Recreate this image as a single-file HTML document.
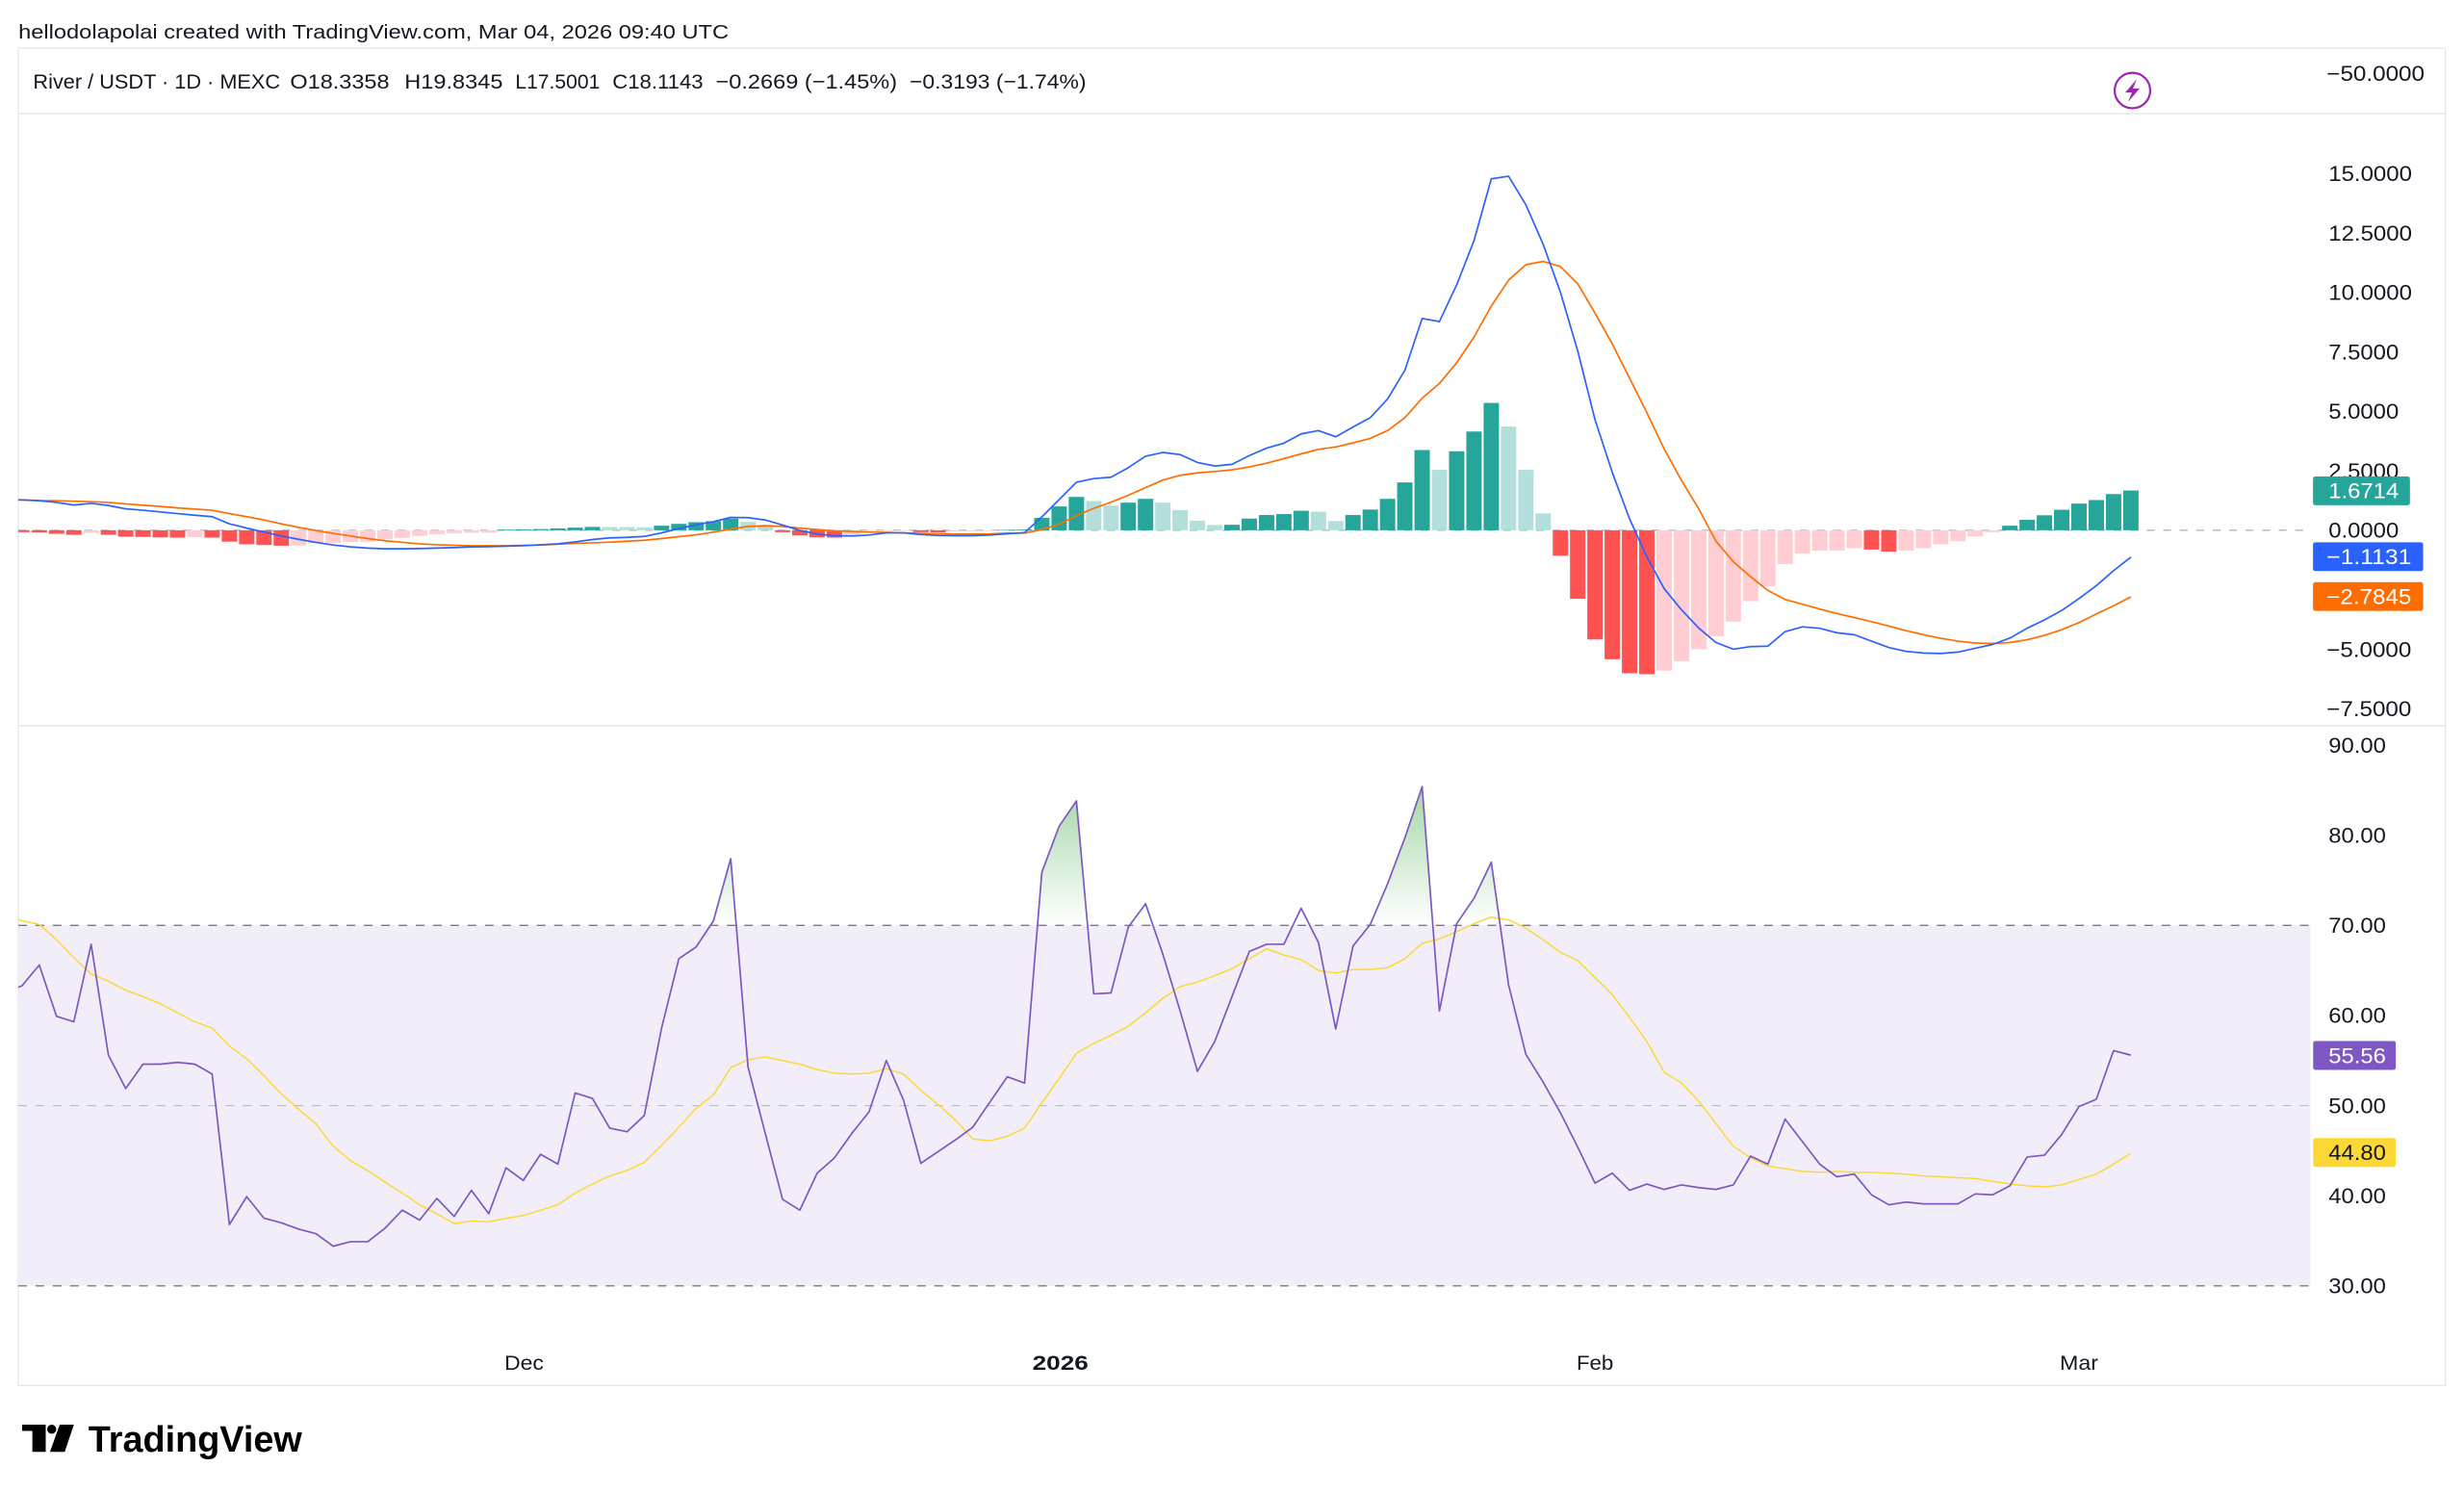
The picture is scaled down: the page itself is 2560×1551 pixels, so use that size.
<!DOCTYPE html>
<html>
<head>
<meta charset="utf-8">
<style>
html,body{margin:0;padding:0;background:#fff;}
svg{display:block;}
text{font-family:"Liberation Sans",Arial,sans-serif;}
</style>
</head>
<body>
<svg xmlns="http://www.w3.org/2000/svg" width="2560" height="1551" viewBox="0 0 2560 1551">
<defs>
  <clipPath id="cm"><rect x="11.6" y="72.6" width="1458.8" height="388.8"/></clipPath>
  <clipPath id="cr"><rect x="11.6" y="462" width="1458.8" height="419.4"/></clipPath>
  <clipPath id="c70" clipPathUnits="userSpaceOnUse"><rect x="-2" y="70" width="130" height="30"/></clipPath>
  <linearGradient id="gg" gradientUnits="userSpaceOnUse" x1="0" y1="100" x2="0" y2="70">
    <stop offset="0" stop-color="#4CAF50" stop-opacity="1"/>
    <stop offset="1" stop-color="#4CAF50" stop-opacity="0"/>
  </linearGradient>
</defs>
<rect width="2560" height="1551" fill="#ffffff"/>
<g transform="scale(1.632653,1.632632)">

  <!-- title -->
  <text x="11.7" y="24.5" font-size="12.6" fill="#131722" textLength="452" lengthAdjust="spacingAndGlyphs">hellodolapolai created with TradingView.com, Mar 04, 2026 09:40 UTC</text>

  <!-- frame -->
  <rect x="11.6" y="30.6" width="1544.6" height="851" fill="none" stroke="#E3E5EB" stroke-width="0.7"/>
  <line x1="11.6" y1="72.3" x2="1556.2" y2="72.3" stroke="#E0E3EB" stroke-width="0.8"/>
  <line x1="11.6" y1="461.7" x2="1556.2" y2="461.7" stroke="#E0E3EB" stroke-width="0.8"/>

  <!-- header -->
  <g font-size="13" fill="#131722">
    <text x="21.1" y="56.3" textLength="157.2" lengthAdjust="spacingAndGlyphs">River / USDT · 1D · MEXC</text>
    <text x="184.6" y="56.3" textLength="63.2" lengthAdjust="spacingAndGlyphs">O18.3358</text>
    <text x="257.4" y="56.3" textLength="62.6" lengthAdjust="spacingAndGlyphs">H19.8345</text>
    <text x="327.9" y="56.3" textLength="53.9" lengthAdjust="spacingAndGlyphs">L17.5001</text>
    <text x="389.7" y="56.3" textLength="57.8" lengthAdjust="spacingAndGlyphs">C18.1143</text>
    <text x="455.4" y="56.3" textLength="115.5" lengthAdjust="spacingAndGlyphs">−0.2669 (−1.45%)</text>
    <text x="578.8" y="56.3" textLength="112.4" lengthAdjust="spacingAndGlyphs">−0.3193 (−1.74%)</text>
  </g>

  <!-- lightning icon -->
  <circle cx="1357" cy="57.6" r="11.3" fill="none" stroke="#9C27B0" stroke-width="1.35"/>
  <path d="M1359.8,50.3 L1352.4,58.9 L1356.7,58.9 L1354.2,64.9 L1361.6,56.3 L1357.3,56.3 Z" fill="#9C27B0"/>

  <!-- ============ MACD PANE ============ -->
  <line x1="11.6" y1="337.4" x2="1470.4" y2="337.4" stroke="#9598A1" stroke-width="0.65" stroke-dasharray="5 5.5"/>
  <g clip-path="url(#cm)">
    <g transform="translate(3,337.4) scale(11,-15.14)">
      <g transform="translate(-0.445,0)">
        <g fill="#FF5252">
          <rect x="0" y="-0.06" width="0.89" height="0.06"/>
          <rect x="1" y="-0.08" width="0.89" height="0.08"/>
          <rect x="2" y="-0.09" width="0.89" height="0.09"/>
          <rect x="3" y="-0.15" width="0.89" height="0.15"/>
          <rect x="4" y="-0.19" width="0.89" height="0.19"/>
          <rect x="6" y="-0.19" width="0.89" height="0.19"/>
          <rect x="7" y="-0.27" width="0.89" height="0.27"/>
          <rect x="8" y="-0.28" width="0.89" height="0.28"/>
          <rect x="9" y="-0.30" width="0.89" height="0.30"/>
          <rect x="10" y="-0.31" width="0.89" height="0.31"/>
          <rect x="12" y="-0.31" width="0.89" height="0.31"/>
          <rect x="13" y="-0.48" width="0.89" height="0.48"/>
          <rect x="14" y="-0.59" width="0.89" height="0.59"/>
          <rect x="15" y="-0.62" width="0.89" height="0.62"/>
          <rect x="16" y="-0.65" width="0.89" height="0.65"/>
          <rect x="45" y="-0.08" width="0.89" height="0.08"/>
          <rect x="46" y="-0.22" width="0.89" height="0.22"/>
          <rect x="47" y="-0.30" width="0.89" height="0.30"/>
          <rect x="48" y="-0.31" width="0.89" height="0.31"/>
          <rect x="53" y="-0.08" width="0.89" height="0.08"/>
          <rect x="54" y="-0.09" width="0.89" height="0.09"/>
          <rect x="90" y="-1.07" width="0.89" height="1.07"/>
          <rect x="91" y="-2.88" width="0.89" height="2.88"/>
          <rect x="92" y="-4.59" width="0.89" height="4.59"/>
          <rect x="93" y="-5.42" width="0.89" height="5.42"/>
          <rect x="94" y="-6.01" width="0.89" height="6.01"/>
          <rect x="95" y="-6.05" width="0.89" height="6.05"/>
          <rect x="108" y="-0.81" width="0.89" height="0.81"/>
          <rect x="109" y="-0.90" width="0.89" height="0.90"/>
        </g>
        <g fill="#FFCDD2">
          <rect x="5" y="-0.11" width="0.89" height="0.11"/>
          <rect x="11" y="-0.29" width="0.89" height="0.29"/>
          <rect x="17" y="-0.64" width="0.89" height="0.64"/>
          <rect x="18" y="-0.55" width="0.89" height="0.55"/>
          <rect x="19" y="-0.54" width="0.89" height="0.54"/>
          <rect x="20" y="-0.49" width="0.89" height="0.49"/>
          <rect x="21" y="-0.48" width="0.89" height="0.48"/>
          <rect x="22" y="-0.38" width="0.89" height="0.38"/>
          <rect x="23" y="-0.32" width="0.89" height="0.32"/>
          <rect x="24" y="-0.24" width="0.89" height="0.24"/>
          <rect x="25" y="-0.17" width="0.89" height="0.17"/>
          <rect x="26" y="-0.12" width="0.89" height="0.12"/>
          <rect x="27" y="-0.11" width="0.89" height="0.11"/>
          <rect x="28" y="-0.10" width="0.89" height="0.10"/>
          <rect x="49" y="-0.18" width="0.89" height="0.18"/>
          <rect x="50" y="-0.05" width="0.89" height="0.05"/>
          <rect x="51" y="-0.04" width="0.89" height="0.04"/>
          <rect x="52" y="-0.03" width="0.89" height="0.03"/>
          <rect x="55" y="-0.05" width="0.89" height="0.05"/>
          <rect x="56" y="-0.04" width="0.89" height="0.04"/>
          <rect x="57" y="-0.03" width="0.89" height="0.03"/>
          <rect x="96" y="-5.90" width="0.89" height="5.90"/>
          <rect x="97" y="-5.50" width="0.89" height="5.50"/>
          <rect x="98" y="-5.00" width="0.89" height="5.00"/>
          <rect x="99" y="-4.45" width="0.89" height="4.45"/>
          <rect x="100" y="-3.84" width="0.89" height="3.84"/>
          <rect x="101" y="-2.98" width="0.89" height="2.98"/>
          <rect x="102" y="-2.35" width="0.89" height="2.35"/>
          <rect x="103" y="-1.42" width="0.89" height="1.42"/>
          <rect x="104" y="-0.97" width="0.89" height="0.97"/>
          <rect x="105" y="-0.86" width="0.89" height="0.86"/>
          <rect x="106" y="-0.85" width="0.89" height="0.85"/>
          <rect x="107" y="-0.75" width="0.89" height="0.75"/>
          <rect x="110" y="-0.86" width="0.89" height="0.86"/>
          <rect x="111" y="-0.75" width="0.89" height="0.75"/>
          <rect x="112" y="-0.59" width="0.89" height="0.59"/>
          <rect x="113" y="-0.46" width="0.89" height="0.46"/>
          <rect x="114" y="-0.26" width="0.89" height="0.26"/>
          <rect x="115" y="-0.08" width="0.89" height="0.08"/>
        </g>
        <g fill="#26A69A">
          <rect x="29" y="0" width="0.89" height="0.03"/>
          <rect x="30" y="0" width="0.89" height="0.04"/>
          <rect x="31" y="0" width="0.89" height="0.05"/>
          <rect x="32" y="0" width="0.89" height="0.08"/>
          <rect x="33" y="0" width="0.89" height="0.11"/>
          <rect x="34" y="0" width="0.89" height="0.14"/>
          <rect x="38" y="0" width="0.89" height="0.19"/>
          <rect x="39" y="0" width="0.89" height="0.27"/>
          <rect x="40" y="0" width="0.89" height="0.34"/>
          <rect x="41" y="0" width="0.89" height="0.38"/>
          <rect x="42" y="0" width="0.89" height="0.49"/>
          <rect x="58" y="0" width="0.89" height="0.02"/>
          <rect x="59" y="0" width="0.89" height="0.03"/>
          <rect x="60" y="0" width="0.89" height="0.52"/>
          <rect x="61" y="0" width="0.89" height="1.00"/>
          <rect x="62" y="0" width="0.89" height="1.40"/>
          <rect x="65" y="0" width="0.89" height="1.16"/>
          <rect x="66" y="0" width="0.89" height="1.32"/>
          <rect x="71" y="0" width="0.89" height="0.23"/>
          <rect x="72" y="0" width="0.89" height="0.49"/>
          <rect x="73" y="0" width="0.89" height="0.64"/>
          <rect x="74" y="0" width="0.89" height="0.68"/>
          <rect x="75" y="0" width="0.89" height="0.82"/>
          <rect x="78" y="0" width="0.89" height="0.64"/>
          <rect x="79" y="0" width="0.89" height="0.87"/>
          <rect x="80" y="0" width="0.89" height="1.32"/>
          <rect x="81" y="0" width="0.89" height="2.01"/>
          <rect x="82" y="0" width="0.89" height="3.37"/>
          <rect x="84" y="0" width="0.89" height="3.32"/>
          <rect x="85" y="0" width="0.89" height="4.15"/>
          <rect x="86" y="0" width="0.89" height="5.35"/>
          <rect x="116" y="0" width="0.89" height="0.19"/>
          <rect x="117" y="0" width="0.89" height="0.44"/>
          <rect x="118" y="0" width="0.89" height="0.63"/>
          <rect x="119" y="0" width="0.89" height="0.86"/>
          <rect x="120" y="0" width="0.89" height="1.12"/>
          <rect x="121" y="0" width="0.89" height="1.27"/>
          <rect x="122" y="0" width="0.89" height="1.52"/>
          <rect x="123" y="0" width="0.89" height="1.67"/>
        </g>
        <g fill="#B2DFDB">
          <rect x="35" y="0" width="0.89" height="0.135"/>
          <rect x="36" y="0" width="0.89" height="0.13"/>
          <rect x="37" y="0" width="0.89" height="0.125"/>
          <rect x="43" y="0" width="0.89" height="0.35"/>
          <rect x="44" y="0" width="0.89" height="0.16"/>
          <rect x="63" y="0" width="0.89" height="1.23"/>
          <rect x="64" y="0" width="0.89" height="1.04"/>
          <rect x="67" y="0" width="0.89" height="1.16"/>
          <rect x="68" y="0" width="0.89" height="0.85"/>
          <rect x="69" y="0" width="0.89" height="0.40"/>
          <rect x="70" y="0" width="0.89" height="0.22"/>
          <rect x="76" y="0" width="0.89" height="0.78"/>
          <rect x="77" y="0" width="0.89" height="0.39"/>
          <rect x="83" y="0" width="0.89" height="2.54"/>
          <rect x="87" y="0" width="0.89" height="4.36"/>
          <rect x="88" y="0" width="0.89" height="2.54"/>
          <rect x="89" y="0" width="0.89" height="0.71"/>
        </g>
      </g>
      <polyline fill="none" stroke="#FF6D00" stroke-width="1.7" vector-effect="non-scaling-stroke" stroke-linejoin="round"
        points="0,1.28 1,1.28 2,1.25 3,1.24 4,1.22 5,1.2 6,1.17 7,1.11 8,1.05 9,1 10,.94 11,.89 12,.84 13,.7 14,.57 15,.43 16,.27 17,.12 18,-.01 19,-.13 20,-.24 21,-.35 22,-.44 23,-.51 24,-.57 25,-.61 26,-.63 27,-.65 28,-.65 29,-.65 30,-.63 31,-.62 32,-.59 33,-.55 34,-.53 35,-.5 36,-.46 37,-.42 38,-.35 39,-.27 40,-.19 41,-.08 42,.05 43,.16 44,.19 45,.16 46,.09 47,.03 48,-.03 49,-.05 50,-.08 51,-.09 52,-.11 53,-.13 54,-.15 55,-.16 56,-.16 57,-.15 58,-.12 59,-.12 60,.03 61,.25 62,.61 63,.92 64,1.18 65,1.47 66,1.79 67,2.11 68,2.31 69,2.41 70,2.47 71,2.54 72,2.66 73,2.82 74,3.01 75,3.21 76,3.4 77,3.5 78,3.67 79,3.86 80,4.19 81,4.73 82,5.55 83,6.17 84,7.04 85,8.12 86,9.42 87,10.51 88,11.16 89,11.3 90,11.08 91,10.36 92,9.13 93,7.83 94,6.39 95,4.94 96,3.42 97,2.1 98,.9 99,-.46 100,-1.32 101,-1.95 102,-2.53 103,-2.91 104,-3.11 105,-3.31 106,-3.5 107,-3.67 108,-3.84 109,-4.03 110,-4.22 111,-4.39 112,-4.54 113,-4.66 114,-4.74 115,-4.76 116,-4.72 117,-4.6 118,-4.42 119,-4.18 120,-3.88 121,-3.52 122,-3.17 123,-2.8"/>
      <polyline fill="none" stroke="#2962FF" stroke-width="1.7" vector-effect="non-scaling-stroke" stroke-linejoin="round"
        points="0,1.27 1,1.27 2,1.24 3,1.17 4,1.06 5,1.13 6,1.04 7,.9 8,.84 9,.77 10,.7 11,.63 12,.57 13,.27 14,.09 15,-.08 16,-.24 17,-.38 18,-.51 19,-.62 20,-.7 21,-.75 22,-.78 23,-.78 24,-.77 25,-.75 26,-.73 27,-.7 28,-.69 29,-.67 30,-.65 31,-.61 32,-.57 33,-.49 34,-.39 35,-.32 36,-.3 37,-.26 38,-.11 39,.07 40,.23 41,.36 42,.54 43,.53 44,.43 45,.22 46,-.01 47,-.16 48,-.23 49,-.24 50,-.2 51,-.11 52,-.11 53,-.18 54,-.22 55,-.23 56,-.23 57,-.2 58,-.15 59,-.1 60,.56 61,1.29 62,2.02 63,2.17 64,2.23 65,2.63 66,3.11 67,3.27 68,3.18 69,2.85 70,2.7 71,2.77 72,3.14 73,3.45 74,3.66 75,4.05 76,4.19 77,3.93 78,4.34 79,4.73 80,5.52 81,6.72 82,8.9 83,8.77 84,10.32 85,12.17 86,14.77 87,14.88 88,13.68 89,12.02 90,10 91,7.54 92,4.65 93,2.43 94,.48 95,-1.12 96,-2.45 97,-3.34 98,-4.11 99,-4.72 100,-5 101,-4.89 102,-4.87 103,-4.26 104,-4.06 105,-4.12 106,-4.31 107,-4.39 108,-4.66 109,-4.93 110,-5.09 111,-5.16 112,-5.18 113,-5.12 114,-4.96 115,-4.8 116,-4.53 117,-4.12 118,-3.77 119,-3.37 120,-2.87 121,-2.33 122,-1.7 123,-1.13"/>
    </g>
  </g>

  <!-- MACD axis labels -->
  <g font-size="13.5" fill="#131722">
    <text x="1480.6" y="51.4" textLength="62.3" lengthAdjust="spacingAndGlyphs">−50.0000</text>
    <text x="1481.8" y="115.1" textLength="53.1" lengthAdjust="spacingAndGlyphs">15.0000</text>
    <text x="1481.8" y="153" textLength="53.1" lengthAdjust="spacingAndGlyphs">12.5000</text>
    <text x="1481.8" y="190.8" textLength="53.1" lengthAdjust="spacingAndGlyphs">10.0000</text>
    <text x="1481.8" y="228.7" textLength="44.7" lengthAdjust="spacingAndGlyphs">7.5000</text>
    <text x="1481.8" y="266.5" textLength="44.7" lengthAdjust="spacingAndGlyphs">5.0000</text>
    <text x="1481.8" y="304.4" textLength="44.7" lengthAdjust="spacingAndGlyphs">2.5000</text>
    <text x="1481.8" y="342.2" textLength="44.7" lengthAdjust="spacingAndGlyphs">0.0000</text>
    <text x="1480.6" y="417.9" textLength="53.9" lengthAdjust="spacingAndGlyphs">−5.0000</text>
    <text x="1480.6" y="455.8" textLength="53.9" lengthAdjust="spacingAndGlyphs">−7.5000</text>
  </g>
  <rect x="1471.9" y="303.2" width="61.7" height="18.3" rx="1.5" fill="#26A69A"/>
  <text x="1481.8" y="317.1" font-size="13.5" fill="#ffffff" textLength="44.7" lengthAdjust="spacingAndGlyphs">1.6714</text>
  <rect x="1471.9" y="345.1" width="70.1" height="18.3" rx="1.5" fill="#2962FF"/>
  <text x="1480.6" y="359" font-size="13.5" fill="#ffffff" textLength="53.9" lengthAdjust="spacingAndGlyphs">−1.1131</text>
  <rect x="1471.9" y="370.4" width="70.1" height="18.3" rx="1.5" fill="#FF6D00"/>
  <text x="1480.6" y="384.4" font-size="13.5" fill="#ffffff" textLength="53.9" lengthAdjust="spacingAndGlyphs">−2.7845</text>

  <!-- ============ RSI PANE ============ -->
  <g clip-path="url(#cr)">
    <g transform="translate(3,818.2) scale(11,-5.735) translate(0,-30)">
      <rect x="0.782" y="30" width="132.618" height="40" fill="#F2EEF9"/>
      <polygon clip-path="url(#c70)" fill="url(#gg)"
        points="0,62.5 1,63.3 2,65.6 3,59.9 4,59.3 5,67.9 6,55.6 7,51.9 8,54.6 9,54.6 10,54.8 11,54.6 12,53.5 13,36.8 14,39.9 15,37.5 16,37 17,36.3 18,35.8 19,34.4 20,34.9 21,34.9 22,36.4 23,38.4 24,37.3 25,39.7 26,37.7 27,40.6 28,38 29,43.1 30,41.7 31,44.6 32,43.5 33,51.4 34,50.8 35,47.5 36,47.1 37,48.9 38,58.6 39,66.3 40,67.6 41,70.5 42,77.4 43,54.3 44,46.9 45,39.6 46,38.4 47,42.5 48,44.2 49,46.9 50,49.3 51,55 52,50.6 53,43.6 54,44.9 55,46.2 56,47.6 57,50.4 58,53.2 59,52.5 60,75.9 61,81 62,83.8 63,62.4 64,62.5 65,69.8 66,72.4 67,66.8 68,60.5 69,53.8 70,57.1 71,62.1 72,67.1 73,67.9 74,67.9 75,71.9 76,68.1 77,58.5 78,67.7 79,70.1 80,74.6 81,79.7 82,85.4 83,60.5 84,70.2 85,73 86,77 87,63.4 88,55.7 89,52.6 90,49.2 91,45.4 92,41.4 93,42.5 94,40.6 95,41.3 96,40.7 97,41.2 98,40.9 99,40.7 100,41.2 101,44.4 102,43.5 103,48.5 104,46 105,43.5 106,42.1 107,42.4 108,40.1 109,39 110,39.3 111,39.1 112,39.1 113,39.1 114,40.2 115,40.1 116,41.1 117,44.3 118,44.5 119,46.8 120,49.9 121,50.7 122,56.1 123,55.6 123,0 0,0"/>
    </g>
  </g>
  <line x1="11.6" y1="588.8" x2="1470.4" y2="588.8" stroke="#787B86" stroke-width="0.8" stroke-dasharray="5.5 5.5"/>
  <line x1="11.6" y1="703.5" x2="1470.4" y2="703.5" stroke="#B9BBC3" stroke-width="0.7" stroke-dasharray="5.5 5.5"/>
  <line x1="11.6" y1="818.2" x2="1470.4" y2="818.2" stroke="#787B86" stroke-width="0.8" stroke-dasharray="5.5 5.5"/>
  <g clip-path="url(#cr)">
    <g transform="translate(3,818.2) scale(11,-5.735) translate(0,-30)">
      <polyline fill="none" stroke="#FDD835" stroke-width="1.5" vector-effect="non-scaling-stroke" stroke-linejoin="round"
        points="0,71.2 1,70.5 2,70.1 3,68.4 4,66.4 5,64.6 6,63.8 7,62.8 8,62.1 9,61.3 10,60.3 11,59.3 12,58.6 13,56.6 14,55.2 15,53.3 16,51.3 17,49.6 18,48 19,45.5 20,43.9 21,42.8 22,41.5 23,40.3 24,39 25,38 26,36.9 27,37.2 28,37.1 29,37.5 30,37.8 31,38.4 32,39 33,40.3 34,41.3 35,42.2 36,42.8 37,43.7 38,45.6 39,47.6 40,49.7 41,51.2 42,54.2 43,55.1 44,55.4 45,55 46,54.6 47,54 48,53.6 49,53.5 50,53.6 51,54.1 52,53.5 53,51.7 54,50.1 55,48.4 56,46.3 57,46.1 58,46.6 59,47.5 60,50.3 61,53 62,55.8 63,56.9 64,57.8 65,58.8 66,60.3 67,61.9 68,63.2 69,63.7 70,64.4 71,65.2 72,66.3 73,67.4 74,66.7 75,66.2 76,65 77,64.7 78,65.1 79,65.1 80,65.3 81,66.3 82,68 83,68.5 84,69.3 85,70.2 86,70.9 87,70.6 88,69.7 89,68.4 90,67 91,66.1 92,64.2 93,62.3 94,59.8 95,57.1 96,53.7 97,52.5 98,50.5 99,48 100,45.5 101,44.2 102,43.3 103,43 104,42.7 105,42.6 106,42.7 107,42.6 108,42.6 109,42.5 110,42.4 111,42.2 112,42.1 113,42 114,41.9 115,41.6 116,41.3 117,41.1 118,41 119,41.2 120,41.8 121,42.4 122,43.5 123,44.7"/>
      <polyline fill="none" stroke="#7E57C2" stroke-width="1.7" vector-effect="non-scaling-stroke" stroke-linejoin="round"
        points="0,62.5 1,63.3 2,65.6 3,59.9 4,59.3 5,67.9 6,55.6 7,51.9 8,54.6 9,54.6 10,54.8 11,54.6 12,53.5 13,36.8 14,39.9 15,37.5 16,37 17,36.3 18,35.8 19,34.4 20,34.9 21,34.9 22,36.4 23,38.4 24,37.3 25,39.7 26,37.7 27,40.6 28,38 29,43.1 30,41.7 31,44.6 32,43.5 33,51.4 34,50.8 35,47.5 36,47.1 37,48.9 38,58.6 39,66.3 40,67.6 41,70.5 42,77.4 43,54.3 44,46.9 45,39.6 46,38.4 47,42.5 48,44.2 49,46.9 50,49.3 51,55 52,50.6 53,43.6 54,44.9 55,46.2 56,47.6 57,50.4 58,53.2 59,52.5 60,75.9 61,81 62,83.8 63,62.4 64,62.5 65,69.8 66,72.4 67,66.8 68,60.5 69,53.8 70,57.1 71,62.1 72,67.1 73,67.9 74,67.9 75,71.9 76,68.1 77,58.5 78,67.7 79,70.1 80,74.6 81,79.7 82,85.4 83,60.5 84,70.2 85,73 86,77 87,63.4 88,55.7 89,52.6 90,49.2 91,45.4 92,41.4 93,42.5 94,40.6 95,41.3 96,40.7 97,41.2 98,40.9 99,40.7 100,41.2 101,44.4 102,43.5 103,48.5 104,46 105,43.5 106,42.1 107,42.4 108,40.1 109,39 110,39.3 111,39.1 112,39.1 113,39.1 114,40.2 115,40.1 116,41.1 117,44.3 118,44.5 119,46.8 120,49.9 121,50.7 122,56.1 123,55.6"/>
    </g>
  </g>

  <!-- RSI axis labels -->
  <g font-size="13.5" fill="#131722">
    <text x="1481.8" y="478.9" textLength="36.5" lengthAdjust="spacingAndGlyphs">90.00</text>
    <text x="1481.8" y="536.2" textLength="36.5" lengthAdjust="spacingAndGlyphs">80.00</text>
    <text x="1481.8" y="593.6" textLength="36.5" lengthAdjust="spacingAndGlyphs">70.00</text>
    <text x="1481.8" y="650.9" textLength="36.5" lengthAdjust="spacingAndGlyphs">60.00</text>
    <text x="1481.8" y="708.3" textLength="36.5" lengthAdjust="spacingAndGlyphs">50.00</text>
    <text x="1481.8" y="765.6" textLength="36.5" lengthAdjust="spacingAndGlyphs">40.00</text>
    <text x="1481.8" y="823" textLength="36.5" lengthAdjust="spacingAndGlyphs">30.00</text>
  </g>
  <rect x="1472" y="662.4" width="52.6" height="18.4" rx="1.5" fill="#7E57C2"/>
  <text x="1481.8" y="676.4" font-size="13.5" fill="#ffffff" textLength="36.5" lengthAdjust="spacingAndGlyphs">55.56</text>
  <rect x="1472" y="724.1" width="52.6" height="18.4" rx="1.5" fill="#FDD835"/>
  <text x="1481.8" y="738.1" font-size="13.5" fill="#131722" textLength="36.5" lengthAdjust="spacingAndGlyphs">44.80</text>

  <!-- time axis -->
  <g font-size="13" fill="#131722" text-anchor="middle">
    <text x="333.5" y="871.6" textLength="25" lengthAdjust="spacingAndGlyphs">Dec</text>
    <text x="674.8" y="871.6" font-weight="bold" textLength="35.6" lengthAdjust="spacingAndGlyphs">2026</text>
    <text x="1015" y="871.6" textLength="23.5" lengthAdjust="spacingAndGlyphs">Feb</text>
    <text x="1323" y="871.6" textLength="24.5" lengthAdjust="spacingAndGlyphs">Mar</text>
  </g>

  <!-- TradingView logo -->
  <path d="M14.1,906.5 H29.1 V923.8 H20.6 V910.5 H14.1 Z" fill="#000"/>
  <circle cx="32.9" cy="909.4" r="2.9" fill="#000"/>
  <path d="M38,906.5 H47 L41.2,923.8 H31.8 Z" fill="#000"/>
  <text x="56.2" y="923.8" font-size="23" font-weight="bold" fill="#000" textLength="136" lengthAdjust="spacingAndGlyphs">TradingView</text>
</g>
</svg>
</body>
</html>
